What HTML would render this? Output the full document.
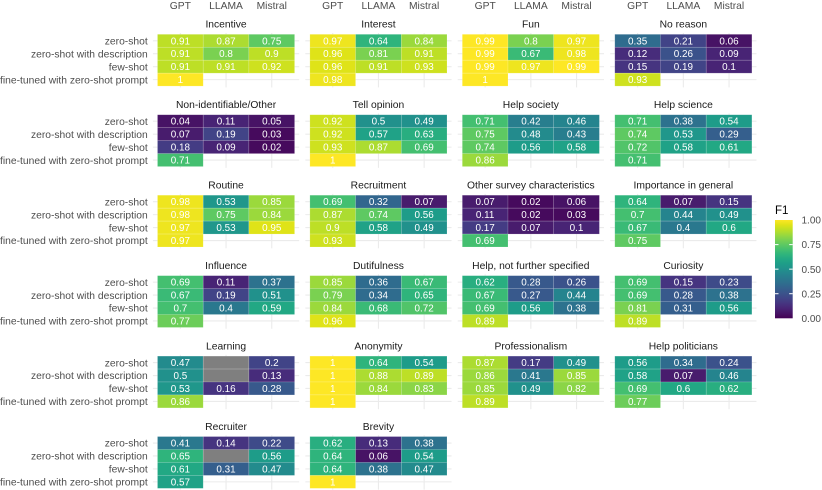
<!DOCTYPE html>
<html>
<head>
<meta charset="utf-8">
<style>
html,body{margin:0;padding:0;background:#fff;}
svg{display:block;font-family:"Liberation Sans",Arial,sans-serif;}
.s{font-size:10.3px;fill:#1a1a1a;text-anchor:middle;}
.ax{font-size:10.3px;fill:#4d4d4d;text-anchor:middle;}
.y text{font-size:10.3px;fill:#4d4d4d;text-anchor:end;}
.v text{font-size:9.9px;fill:#fff;text-anchor:middle;}
.t rect{stroke:#fff;stroke-opacity:.25;stroke-width:.6;}
.na{fill:#7f7f7f;}
.k1{fill:rgb(70,10,93)}.k2{fill:#471365}.k3{fill:rgb(72,28,109)}.k4{fill:#482475}.k5{fill:rgb(71,44,123)}
.k6{fill:#463480}.k7{fill:rgb(68,60,132)}.k8{fill:#414487}.k9{fill:rgb(62,75,137)}.k10{fill:#3b528b}
.k11{fill:rgb(56,89,140)}.k12{fill:#355f8d}.k13{fill:rgb(50,102,142)}.k14{fill:#2f6c8e}.k15{fill:rgb(45,114,142)}
.k16{fill:#2a788e}.k17{fill:rgb(40,126,142)}.k18{fill:#25848e}.k19{fill:rgb(35,139,141)}.k20{fill:#21918c}
.k21{fill:rgb(32,151,139)}.k22{fill:#1e9c89}.k23{fill:rgb(32,162,135)}.k24{fill:#22a884}.k25{fill:rgb(41,174,128)}
.k26{fill:#2fb47c}.k27{fill:rgb(58,186,118)}.k28{fill:#44bf70}.k29{fill:rgb(81,196,105)}.k30{fill:#5ec962}
.k31{fill:rgb(108,205,90)}.k32{fill:#7ad151}.k33{fill:rgb(139,213,71)}.k34{fill:#9bd93c}.k35{fill:rgb(172,220,49)}
.k36{fill:#bddf26}.k37{fill:rgb(206,225,31)}.k38{fill:#dfe318}.k39{fill:rgb(238,229,31)}.k40{fill:#fde725}
</style>
</head>
<body>
<svg width="822" height="490" viewBox="0 0 822 490" xmlns="http://www.w3.org/2000/svg">
<defs>
<g id="grid" stroke="#ebebeb" stroke-width="1.1">
<line x1="-4.57" x2="141.67" y1="6.475" y2="6.475"/>
<line x1="-4.57" x2="141.67" y1="19.425" y2="19.425"/>
<line x1="-4.57" x2="141.67" y1="32.375" y2="32.375"/>
<line x1="-4.57" x2="141.67" y1="45.325" y2="45.325"/>
<line x1="22.85" x2="22.85" y1="-1.3" y2="53.1"/>
<line x1="68.55" x2="68.55" y1="-1.3" y2="53.1"/>
<line x1="114.25" x2="114.25" y1="-1.3" y2="53.1"/>
</g>
<linearGradient id="vir" x1="0" y1="1" x2="0" y2="0">
<stop offset="0" stop-color="#440154"/><stop offset="0.05" stop-color="#471365"/><stop offset="0.1" stop-color="#482475"/>
<stop offset="0.15" stop-color="#463480"/><stop offset="0.2" stop-color="#414487"/><stop offset="0.25" stop-color="#3b528b"/>
<stop offset="0.3" stop-color="#355f8d"/><stop offset="0.35" stop-color="#2f6c8e"/><stop offset="0.4" stop-color="#2a788e"/>
<stop offset="0.45" stop-color="#25848e"/><stop offset="0.5" stop-color="#21918c"/><stop offset="0.55" stop-color="#1e9c89"/>
<stop offset="0.6" stop-color="#22a884"/><stop offset="0.65" stop-color="#2fb47c"/><stop offset="0.7" stop-color="#44bf70"/>
<stop offset="0.75" stop-color="#5ec962"/><stop offset="0.8" stop-color="#7ad151"/><stop offset="0.85" stop-color="#9bd93c"/>
<stop offset="0.9" stop-color="#bddf26"/><stop offset="0.95" stop-color="#dfe318"/><stop offset="1" stop-color="#fde725"/>
</linearGradient>
</defs>

<!-- top axis labels -->
<text class="ax" x="180.35" y="9">GPT</text><text class="ax" x="226.05" y="9">LLAMA</text><text class="ax" x="271.75" y="9">Mistral</text>
<text class="ax" x="332.75" y="9">GPT</text><text class="ax" x="378.45" y="9">LLAMA</text><text class="ax" x="424.15" y="9">Mistral</text>
<text class="ax" x="485.15" y="9">GPT</text><text class="ax" x="530.85" y="9">LLAMA</text><text class="ax" x="576.55" y="9">Mistral</text>
<text class="ax" x="637.65" y="9">GPT</text><text class="ax" x="683.35" y="9">LLAMA</text><text class="ax" x="729.05" y="9">Mistral</text>

<!-- ===== ROW 1 ===== -->
<g transform="translate(157.5,34.3)">
<use href="#grid"/>
<g class="y"><text x="-9.8" y="10.18">zero-shot</text><text x="-9.8" y="23.13">zero-shot with description</text><text x="-9.8" y="36.08">few-shot</text><text x="-9.8" y="49.03">fine-tuned with zero-shot prompt</text></g>
<text class="s" x="68.55" y="-6.7">Incentive</text>
<g class="t">
<rect x="0" y="0" width="45.7" height="12.95" class="k36"/><rect x="45.7" y="0" width="45.7" height="12.95" class="k35"/><rect x="91.4" y="0" width="45.7" height="12.95" class="k30"/>
<rect x="0" y="12.95" width="45.7" height="12.95" class="k36"/><rect x="45.7" y="12.95" width="45.7" height="12.95" class="k32"/><rect x="91.4" y="12.95" width="45.7" height="12.95" class="k36"/>
<rect x="0" y="25.9" width="45.7" height="12.95" class="k36"/><rect x="45.7" y="25.9" width="45.7" height="12.95" class="k36"/><rect x="91.4" y="25.9" width="45.7" height="12.95" class="k37"/>
<rect x="0" y="38.85" width="45.7" height="12.95" class="k40"/>
</g>
<g class="v">
<text x="22.85" y="9.98">0.91</text><text x="68.55" y="9.98">0.87</text><text x="114.25" y="9.98">0.75</text>
<text x="22.85" y="22.93">0.91</text><text x="68.55" y="22.93">0.8</text><text x="114.25" y="22.93">0.9</text>
<text x="22.85" y="35.88">0.91</text><text x="68.55" y="35.88">0.91</text><text x="114.25" y="35.88">0.92</text>
<text x="22.85" y="48.83">1</text>
</g>
</g>

<g transform="translate(309.9,34.3)">
<use href="#grid"/>
<text class="s" x="68.55" y="-6.7">Interest</text>
<g class="t">
<rect x="0" y="0" width="45.7" height="12.95" class="k39"/><rect x="45.7" y="0" width="45.7" height="12.95" class="k26"/><rect x="91.4" y="0" width="45.7" height="12.95" class="k34"/>
<rect x="0" y="12.95" width="45.7" height="12.95" class="k38"/><rect x="45.7" y="12.95" width="45.7" height="12.95" class="k32"/><rect x="91.4" y="12.95" width="45.7" height="12.95" class="k36"/>
<rect x="0" y="25.9" width="45.7" height="12.95" class="k38"/><rect x="45.7" y="25.9" width="45.7" height="12.95" class="k36"/><rect x="91.4" y="25.9" width="45.7" height="12.95" class="k37"/>
<rect x="0" y="38.85" width="45.7" height="12.95" class="k39"/>
</g>
<g class="v">
<text x="22.85" y="9.98">0.97</text><text x="68.55" y="9.98">0.64</text><text x="114.25" y="9.98">0.84</text>
<text x="22.85" y="22.93">0.96</text><text x="68.55" y="22.93">0.81</text><text x="114.25" y="22.93">0.91</text>
<text x="22.85" y="35.88">0.96</text><text x="68.55" y="35.88">0.91</text><text x="114.25" y="35.88">0.93</text>
<text x="22.85" y="48.83">0.98</text>
</g>
</g>

<g transform="translate(462.3,34.3)">
<use href="#grid"/>
<text class="s" x="68.55" y="-6.7">Fun</text>
<g class="t">
<rect x="0" y="0" width="45.7" height="12.95" class="k40"/><rect x="45.7" y="0" width="45.7" height="12.95" class="k32"/><rect x="91.4" y="0" width="45.7" height="12.95" class="k39"/>
<rect x="0" y="12.95" width="45.7" height="12.95" class="k40"/><rect x="45.7" y="12.95" width="45.7" height="12.95" class="k27"/><rect x="91.4" y="12.95" width="45.7" height="12.95" class="k39"/>
<rect x="0" y="25.9" width="45.7" height="12.95" class="k40"/><rect x="45.7" y="25.9" width="45.7" height="12.95" class="k39"/><rect x="91.4" y="25.9" width="45.7" height="12.95" class="k40"/>
<rect x="0" y="38.85" width="45.7" height="12.95" class="k40"/>
</g>
<g class="v">
<text x="22.85" y="9.98">0.99</text><text x="68.55" y="9.98">0.8</text><text x="114.25" y="9.98">0.97</text>
<text x="22.85" y="22.93">0.99</text><text x="68.55" y="22.93">0.67</text><text x="114.25" y="22.93">0.98</text>
<text x="22.85" y="35.88">0.99</text><text x="68.55" y="35.88">0.97</text><text x="114.25" y="35.88">0.99</text>
<text x="22.85" y="48.83">1</text>
</g>
</g>

<g transform="translate(614.8,34.3)">
<use href="#grid"/>
<text class="s" x="68.55" y="-6.7">No reason</text>
<g class="t">
<rect x="0" y="0" width="45.7" height="12.95" class="k14"/><rect x="45.7" y="0" width="45.7" height="12.95" class="k8"/><rect x="91.4" y="0" width="45.7" height="12.95" class="k2"/>
<rect x="0" y="12.95" width="45.7" height="12.95" class="k5"/><rect x="45.7" y="12.95" width="45.7" height="12.95" class="k10"/><rect x="91.4" y="12.95" width="45.7" height="12.95" class="k4"/>
<rect x="0" y="25.9" width="45.7" height="12.95" class="k6"/><rect x="45.7" y="25.9" width="45.7" height="12.95" class="k8"/><rect x="91.4" y="25.9" width="45.7" height="12.95" class="k4"/>
<rect x="0" y="38.85" width="45.7" height="12.95" class="k37"/>
</g>
<g class="v">
<text x="22.85" y="9.98">0.35</text><text x="68.55" y="9.98">0.21</text><text x="114.25" y="9.98">0.06</text>
<text x="22.85" y="22.93">0.12</text><text x="68.55" y="22.93">0.26</text><text x="114.25" y="22.93">0.09</text>
<text x="22.85" y="35.88">0.15</text><text x="68.55" y="35.88">0.19</text><text x="114.25" y="35.88">0.1</text>
<text x="22.85" y="48.83">0.93</text>
</g>
</g>

<!-- ===== ROW 2 ===== -->
<g transform="translate(157.5,114.75)">
<use href="#grid"/>
<g class="y"><text x="-9.8" y="10.18">zero-shot</text><text x="-9.8" y="23.13">zero-shot with description</text><text x="-9.8" y="36.08">few-shot</text><text x="-9.8" y="49.03">fine-tuned with zero-shot prompt</text></g>
<text class="s" x="68.55" y="-6.7">Non-identifiable/Other</text>
<g class="t">
<rect x="0" y="0" width="45.7" height="12.95" class="k2"/><rect x="45.7" y="0" width="45.7" height="12.95" class="k4"/><rect x="91.4" y="0" width="45.7" height="12.95" class="k2"/>
<rect x="0" y="12.95" width="45.7" height="12.95" class="k3"/><rect x="45.7" y="12.95" width="45.7" height="12.95" class="k8"/><rect x="91.4" y="12.95" width="45.7" height="12.95" class="k1"/>
<rect x="0" y="25.9" width="45.7" height="12.95" class="k7"/><rect x="45.7" y="25.9" width="45.7" height="12.95" class="k4"/><rect x="91.4" y="25.9" width="45.7" height="12.95" class="k1"/>
<rect x="0" y="38.85" width="45.7" height="12.95" class="k28"/>
</g>
<g class="v">
<text x="22.85" y="9.98">0.04</text><text x="68.55" y="9.98">0.11</text><text x="114.25" y="9.98">0.05</text>
<text x="22.85" y="22.93">0.07</text><text x="68.55" y="22.93">0.19</text><text x="114.25" y="22.93">0.03</text>
<text x="22.85" y="35.88">0.18</text><text x="68.55" y="35.88">0.09</text><text x="114.25" y="35.88">0.02</text>
<text x="22.85" y="48.83">0.71</text>
</g>
</g>

<g transform="translate(309.9,114.75)">
<use href="#grid"/>
<text class="s" x="68.55" y="-6.7">Tell opinion</text>
<g class="t">
<rect x="0" y="0" width="45.7" height="12.95" class="k37"/><rect x="45.7" y="0" width="45.7" height="12.95" class="k20"/><rect x="91.4" y="0" width="45.7" height="12.95" class="k20"/>
<rect x="0" y="12.95" width="45.7" height="12.95" class="k37"/><rect x="45.7" y="12.95" width="45.7" height="12.95" class="k23"/><rect x="91.4" y="12.95" width="45.7" height="12.95" class="k25"/>
<rect x="0" y="25.9" width="45.7" height="12.95" class="k37"/><rect x="45.7" y="25.9" width="45.7" height="12.95" class="k35"/><rect x="91.4" y="25.9" width="45.7" height="12.95" class="k28"/>
<rect x="0" y="38.85" width="45.7" height="12.95" class="k40"/>
</g>
<g class="v">
<text x="22.85" y="9.98">0.92</text><text x="68.55" y="9.98">0.5</text><text x="114.25" y="9.98">0.49</text>
<text x="22.85" y="22.93">0.92</text><text x="68.55" y="22.93">0.57</text><text x="114.25" y="22.93">0.63</text>
<text x="22.85" y="35.88">0.93</text><text x="68.55" y="35.88">0.87</text><text x="114.25" y="35.88">0.69</text>
<text x="22.85" y="48.83">1</text>
</g>
</g>

<g transform="translate(462.3,114.75)">
<use href="#grid"/>
<text class="s" x="68.55" y="-6.7">Help society</text>
<g class="t">
<rect x="0" y="0" width="45.7" height="12.95" class="k28"/><rect x="45.7" y="0" width="45.7" height="12.95" class="k17"/><rect x="91.4" y="0" width="45.7" height="12.95" class="k18"/>
<rect x="0" y="12.95" width="45.7" height="12.95" class="k30"/><rect x="45.7" y="12.95" width="45.7" height="12.95" class="k19"/><rect x="91.4" y="12.95" width="45.7" height="12.95" class="k17"/>
<rect x="0" y="25.9" width="45.7" height="12.95" class="k30"/><rect x="45.7" y="25.9" width="45.7" height="12.95" class="k22"/><rect x="91.4" y="25.9" width="45.7" height="12.95" class="k23"/>
<rect x="0" y="38.85" width="45.7" height="12.95" class="k34"/>
</g>
<g class="v">
<text x="22.85" y="9.98">0.71</text><text x="68.55" y="9.98">0.42</text><text x="114.25" y="9.98">0.46</text>
<text x="22.85" y="22.93">0.75</text><text x="68.55" y="22.93">0.48</text><text x="114.25" y="22.93">0.43</text>
<text x="22.85" y="35.88">0.74</text><text x="68.55" y="35.88">0.56</text><text x="114.25" y="35.88">0.58</text>
<text x="22.85" y="48.83">0.86</text>
</g>
</g>

<g transform="translate(614.8,114.75)">
<use href="#grid"/>
<text class="s" x="68.55" y="-6.7">Help science</text>
<g class="t">
<rect x="0" y="0" width="45.7" height="12.95" class="k28"/><rect x="45.7" y="0" width="45.7" height="12.95" class="k15"/><rect x="91.4" y="0" width="45.7" height="12.95" class="k22"/>
<rect x="0" y="12.95" width="45.7" height="12.95" class="k30"/><rect x="45.7" y="12.95" width="45.7" height="12.95" class="k21"/><rect x="91.4" y="12.95" width="45.7" height="12.95" class="k12"/>
<rect x="0" y="25.9" width="45.7" height="12.95" class="k29"/><rect x="45.7" y="25.9" width="45.7" height="12.95" class="k23"/><rect x="91.4" y="25.9" width="45.7" height="12.95" class="k24"/>
<rect x="0" y="38.85" width="45.7" height="12.95" class="k28"/>
</g>
<g class="v">
<text x="22.85" y="9.98">0.71</text><text x="68.55" y="9.98">0.38</text><text x="114.25" y="9.98">0.54</text>
<text x="22.85" y="22.93">0.74</text><text x="68.55" y="22.93">0.53</text><text x="114.25" y="22.93">0.29</text>
<text x="22.85" y="35.88">0.72</text><text x="68.55" y="35.88">0.58</text><text x="114.25" y="35.88">0.61</text>
<text x="22.85" y="48.83">0.71</text>
</g>
</g>

<!-- ===== ROW 3 ===== -->
<g transform="translate(157.5,195.2)">
<use href="#grid"/>
<g class="y"><text x="-9.8" y="10.18">zero-shot</text><text x="-9.8" y="23.13">zero-shot with description</text><text x="-9.8" y="36.08">few-shot</text><text x="-9.8" y="49.03">fine-tuned with zero-shot prompt</text></g>
<text class="s" x="68.55" y="-6.7">Routine</text>
<g class="t">
<rect x="0" y="0" width="45.7" height="12.95" class="k39"/><rect x="45.7" y="0" width="45.7" height="12.95" class="k21"/><rect x="91.4" y="0" width="45.7" height="12.95" class="k34"/>
<rect x="0" y="12.95" width="45.7" height="12.95" class="k39"/><rect x="45.7" y="12.95" width="45.7" height="12.95" class="k30"/><rect x="91.4" y="12.95" width="45.7" height="12.95" class="k34"/>
<rect x="0" y="25.9" width="45.7" height="12.95" class="k39"/><rect x="45.7" y="25.9" width="45.7" height="12.95" class="k21"/><rect x="91.4" y="25.9" width="45.7" height="12.95" class="k38"/>
<rect x="0" y="38.85" width="45.7" height="12.95" class="k39"/>
</g>
<g class="v">
<text x="22.85" y="9.98">0.98</text><text x="68.55" y="9.98">0.53</text><text x="114.25" y="9.98">0.85</text>
<text x="22.85" y="22.93">0.98</text><text x="68.55" y="22.93">0.75</text><text x="114.25" y="22.93">0.84</text>
<text x="22.85" y="35.88">0.97</text><text x="68.55" y="35.88">0.53</text><text x="114.25" y="35.88">0.95</text>
<text x="22.85" y="48.83">0.97</text>
</g>
</g>

<g transform="translate(309.9,195.2)">
<use href="#grid"/>
<text class="s" x="68.55" y="-6.7">Recruitment</text>
<g class="t">
<rect x="0" y="0" width="45.7" height="12.95" class="k28"/><rect x="45.7" y="0" width="45.7" height="12.95" class="k13"/><rect x="91.4" y="0" width="45.7" height="12.95" class="k3"/>
<rect x="0" y="12.95" width="45.7" height="12.95" class="k35"/><rect x="45.7" y="12.95" width="45.7" height="12.95" class="k30"/><rect x="91.4" y="12.95" width="45.7" height="12.95" class="k22"/>
<rect x="0" y="25.9" width="45.7" height="12.95" class="k36"/><rect x="45.7" y="25.9" width="45.7" height="12.95" class="k23"/><rect x="91.4" y="25.9" width="45.7" height="12.95" class="k20"/>
<rect x="0" y="38.85" width="45.7" height="12.95" class="k37"/>
</g>
<g class="v">
<text x="22.85" y="9.98">0.69</text><text x="68.55" y="9.98">0.32</text><text x="114.25" y="9.98">0.07</text>
<text x="22.85" y="22.93">0.87</text><text x="68.55" y="22.93">0.74</text><text x="114.25" y="22.93">0.56</text>
<text x="22.85" y="35.88">0.9</text><text x="68.55" y="35.88">0.58</text><text x="114.25" y="35.88">0.49</text>
<text x="22.85" y="48.83">0.93</text>
</g>
</g>

<g transform="translate(462.3,195.2)">
<use href="#grid"/>
<text class="s" x="68.55" y="-6.7">Other survey characteristics</text>
<g class="t">
<rect x="0" y="0" width="45.7" height="12.95" class="k3"/><rect x="45.7" y="0" width="45.7" height="12.95" class="k1"/><rect x="91.4" y="0" width="45.7" height="12.95" class="k2"/>
<rect x="0" y="12.95" width="45.7" height="12.95" class="k4"/><rect x="45.7" y="12.95" width="45.7" height="12.95" class="k1"/><rect x="91.4" y="12.95" width="45.7" height="12.95" class="k1"/>
<rect x="0" y="25.9" width="45.7" height="12.95" class="k7"/><rect x="45.7" y="25.9" width="45.7" height="12.95" class="k3"/><rect x="91.4" y="25.9" width="45.7" height="12.95" class="k4"/>
<rect x="0" y="38.85" width="45.7" height="12.95" class="k28"/>
</g>
<g class="v">
<text x="22.85" y="9.98">0.07</text><text x="68.55" y="9.98">0.02</text><text x="114.25" y="9.98">0.06</text>
<text x="22.85" y="22.93">0.11</text><text x="68.55" y="22.93">0.02</text><text x="114.25" y="22.93">0.03</text>
<text x="22.85" y="35.88">0.17</text><text x="68.55" y="35.88">0.07</text><text x="114.25" y="35.88">0.1</text>
<text x="22.85" y="48.83">0.69</text>
</g>
</g>

<g transform="translate(614.8,195.2)">
<use href="#grid"/>
<text class="s" x="68.55" y="-6.7">Importance in general</text>
<g class="t">
<rect x="0" y="0" width="45.7" height="12.95" class="k26"/><rect x="45.7" y="0" width="45.7" height="12.95" class="k3"/><rect x="91.4" y="0" width="45.7" height="12.95" class="k6"/>
<rect x="0" y="12.95" width="45.7" height="12.95" class="k28"/><rect x="45.7" y="12.95" width="45.7" height="12.95" class="k18"/><rect x="91.4" y="12.95" width="45.7" height="12.95" class="k20"/>
<rect x="0" y="25.9" width="45.7" height="12.95" class="k27"/><rect x="45.7" y="25.9" width="45.7" height="12.95" class="k16"/><rect x="91.4" y="25.9" width="45.7" height="12.95" class="k24"/>
<rect x="0" y="38.85" width="45.7" height="12.95" class="k30"/>
</g>
<g class="v">
<text x="22.85" y="9.98">0.64</text><text x="68.55" y="9.98">0.07</text><text x="114.25" y="9.98">0.15</text>
<text x="22.85" y="22.93">0.7</text><text x="68.55" y="22.93">0.44</text><text x="114.25" y="22.93">0.49</text>
<text x="22.85" y="35.88">0.67</text><text x="68.55" y="35.88">0.4</text><text x="114.25" y="35.88">0.6</text>
<text x="22.85" y="48.83">0.75</text>
</g>
</g>

<!-- ===== ROW 4 ===== -->
<g transform="translate(157.5,275.65)">
<use href="#grid"/>
<g class="y"><text x="-9.8" y="10.18">zero-shot</text><text x="-9.8" y="23.13">zero-shot with description</text><text x="-9.8" y="36.08">few-shot</text><text x="-9.8" y="49.03">fine-tuned with zero-shot prompt</text></g>
<text class="s" x="68.55" y="-6.7">Influence</text>
<g class="t">
<rect x="0" y="0" width="45.7" height="12.95" class="k28"/><rect x="45.7" y="0" width="45.7" height="12.95" class="k4"/><rect x="91.4" y="0" width="45.7" height="12.95" class="k15"/>
<rect x="0" y="12.95" width="45.7" height="12.95" class="k27"/><rect x="45.7" y="12.95" width="45.7" height="12.95" class="k8"/><rect x="91.4" y="12.95" width="45.7" height="12.95" class="k20"/>
<rect x="0" y="25.9" width="45.7" height="12.95" class="k28"/><rect x="45.7" y="25.9" width="45.7" height="12.95" class="k16"/><rect x="91.4" y="25.9" width="45.7" height="12.95" class="k24"/>
<rect x="0" y="38.85" width="45.7" height="12.95" class="k31"/>
</g>
<g class="v">
<text x="22.85" y="9.98">0.69</text><text x="68.55" y="9.98">0.11</text><text x="114.25" y="9.98">0.37</text>
<text x="22.85" y="22.93">0.67</text><text x="68.55" y="22.93">0.19</text><text x="114.25" y="22.93">0.51</text>
<text x="22.85" y="35.88">0.7</text><text x="68.55" y="35.88">0.4</text><text x="114.25" y="35.88">0.59</text>
<text x="22.85" y="48.83">0.77</text>
</g>
</g>

<g transform="translate(309.9,275.65)">
<use href="#grid"/>
<text class="s" x="68.55" y="-6.7">Dutifulness</text>
<g class="t">
<rect x="0" y="0" width="45.7" height="12.95" class="k34"/><rect x="45.7" y="0" width="45.7" height="12.95" class="k14"/><rect x="91.4" y="0" width="45.7" height="12.95" class="k27"/>
<rect x="0" y="12.95" width="45.7" height="12.95" class="k32"/><rect x="45.7" y="12.95" width="45.7" height="12.95" class="k14"/><rect x="91.4" y="12.95" width="45.7" height="12.95" class="k26"/>
<rect x="0" y="25.9" width="45.7" height="12.95" class="k34"/><rect x="45.7" y="25.9" width="45.7" height="12.95" class="k27"/><rect x="91.4" y="25.9" width="45.7" height="12.95" class="k29"/>
<rect x="0" y="38.85" width="45.7" height="12.95" class="k38"/>
</g>
<g class="v">
<text x="22.85" y="9.98">0.85</text><text x="68.55" y="9.98">0.36</text><text x="114.25" y="9.98">0.67</text>
<text x="22.85" y="22.93">0.79</text><text x="68.55" y="22.93">0.34</text><text x="114.25" y="22.93">0.65</text>
<text x="22.85" y="35.88">0.84</text><text x="68.55" y="35.88">0.68</text><text x="114.25" y="35.88">0.72</text>
<text x="22.85" y="48.83">0.96</text>
</g>
</g>

<g transform="translate(462.3,275.65)">
<use href="#grid"/>
<text class="s" x="68.55" y="-6.7">Help, not further specified</text>
<g class="t">
<rect x="0" y="0" width="45.7" height="12.95" class="k25"/><rect x="45.7" y="0" width="45.7" height="12.95" class="k11"/><rect x="91.4" y="0" width="45.7" height="12.95" class="k10"/>
<rect x="0" y="12.95" width="45.7" height="12.95" class="k27"/><rect x="45.7" y="12.95" width="45.7" height="12.95" class="k11"/><rect x="91.4" y="12.95" width="45.7" height="12.95" class="k18"/>
<rect x="0" y="25.9" width="45.7" height="12.95" class="k28"/><rect x="45.7" y="25.9" width="45.7" height="12.95" class="k22"/><rect x="91.4" y="25.9" width="45.7" height="12.95" class="k15"/>
<rect x="0" y="38.85" width="45.7" height="12.95" class="k36"/>
</g>
<g class="v">
<text x="22.85" y="9.98">0.62</text><text x="68.55" y="9.98">0.28</text><text x="114.25" y="9.98">0.26</text>
<text x="22.85" y="22.93">0.67</text><text x="68.55" y="22.93">0.27</text><text x="114.25" y="22.93">0.44</text>
<text x="22.85" y="35.88">0.69</text><text x="68.55" y="35.88">0.56</text><text x="114.25" y="35.88">0.38</text>
<text x="22.85" y="48.83">0.89</text>
</g>
</g>

<g transform="translate(614.8,275.65)">
<use href="#grid"/>
<text class="s" x="68.55" y="-6.7">Curiosity</text>
<g class="t">
<rect x="0" y="0" width="45.7" height="12.95" class="k28"/><rect x="45.7" y="0" width="45.7" height="12.95" class="k6"/><rect x="91.4" y="0" width="45.7" height="12.95" class="k9"/>
<rect x="0" y="12.95" width="45.7" height="12.95" class="k28"/><rect x="45.7" y="12.95" width="45.7" height="12.95" class="k11"/><rect x="91.4" y="12.95" width="45.7" height="12.95" class="k15"/>
<rect x="0" y="25.9" width="45.7" height="12.95" class="k32"/><rect x="45.7" y="25.9" width="45.7" height="12.95" class="k12"/><rect x="91.4" y="25.9" width="45.7" height="12.95" class="k22"/>
<rect x="0" y="38.85" width="45.7" height="12.95" class="k36"/>
</g>
<g class="v">
<text x="22.85" y="9.98">0.69</text><text x="68.55" y="9.98">0.15</text><text x="114.25" y="9.98">0.23</text>
<text x="22.85" y="22.93">0.69</text><text x="68.55" y="22.93">0.28</text><text x="114.25" y="22.93">0.38</text>
<text x="22.85" y="35.88">0.81</text><text x="68.55" y="35.88">0.31</text><text x="114.25" y="35.88">0.56</text>
<text x="22.85" y="48.83">0.89</text>
</g>
</g>

<!-- ===== ROW 5 ===== -->
<g transform="translate(157.5,356.1)">
<use href="#grid"/>
<g class="y"><text x="-9.8" y="10.18">zero-shot</text><text x="-9.8" y="23.13">zero-shot with description</text><text x="-9.8" y="36.08">few-shot</text><text x="-9.8" y="49.03">fine-tuned with zero-shot prompt</text></g>
<text class="s" x="68.55" y="-6.7">Learning</text>
<g class="t">
<rect x="0" y="0" width="45.7" height="12.95" class="k19"/><rect x="45.7" y="0" width="45.7" height="12.95" class="na"/><rect x="91.4" y="0" width="45.7" height="12.95" class="k8"/>
<rect x="0" y="12.95" width="45.7" height="12.95" class="k20"/><rect x="45.7" y="12.95" width="45.7" height="12.95" class="na"/><rect x="91.4" y="12.95" width="45.7" height="12.95" class="k5"/>
<rect x="0" y="25.9" width="45.7" height="12.95" class="k21"/><rect x="45.7" y="25.9" width="45.7" height="12.95" class="k6"/><rect x="91.4" y="25.9" width="45.7" height="12.95" class="k11"/>
<rect x="0" y="38.85" width="45.7" height="12.95" class="k34"/>
</g>
<g class="v">
<text x="22.85" y="9.98">0.47</text><text x="114.25" y="9.98">0.2</text>
<text x="22.85" y="22.93">0.5</text><text x="114.25" y="22.93">0.13</text>
<text x="22.85" y="35.88">0.53</text><text x="68.55" y="35.88">0.16</text><text x="114.25" y="35.88">0.28</text>
<text x="22.85" y="48.83">0.86</text>
</g>
</g>

<g transform="translate(309.9,356.1)">
<use href="#grid"/>
<text class="s" x="68.55" y="-6.7">Anonymity</text>
<g class="t">
<rect x="0" y="0" width="45.7" height="12.95" class="k40"/><rect x="45.7" y="0" width="45.7" height="12.95" class="k26"/><rect x="91.4" y="0" width="45.7" height="12.95" class="k22"/>
<rect x="0" y="12.95" width="45.7" height="12.95" class="k40"/><rect x="45.7" y="12.95" width="45.7" height="12.95" class="k35"/><rect x="91.4" y="12.95" width="45.7" height="12.95" class="k36"/>
<rect x="0" y="25.9" width="45.7" height="12.95" class="k40"/><rect x="45.7" y="25.9" width="45.7" height="12.95" class="k34"/><rect x="91.4" y="25.9" width="45.7" height="12.95" class="k33"/>
<rect x="0" y="38.85" width="45.7" height="12.95" class="k40"/>
</g>
<g class="v">
<text x="22.85" y="9.98">1</text><text x="68.55" y="9.98">0.64</text><text x="114.25" y="9.98">0.54</text>
<text x="22.85" y="22.93">1</text><text x="68.55" y="22.93">0.88</text><text x="114.25" y="22.93">0.89</text>
<text x="22.85" y="35.88">1</text><text x="68.55" y="35.88">0.84</text><text x="114.25" y="35.88">0.83</text>
<text x="22.85" y="48.83">1</text>
</g>
</g>

<g transform="translate(462.3,356.1)">
<use href="#grid"/>
<text class="s" x="68.55" y="-6.7">Professionalism</text>
<g class="t">
<rect x="0" y="0" width="45.7" height="12.95" class="k35"/><rect x="45.7" y="0" width="45.7" height="12.95" class="k7"/><rect x="91.4" y="0" width="45.7" height="12.95" class="k20"/>
<rect x="0" y="12.95" width="45.7" height="12.95" class="k34"/><rect x="45.7" y="12.95" width="45.7" height="12.95" class="k16"/><rect x="91.4" y="12.95" width="45.7" height="12.95" class="k34"/>
<rect x="0" y="25.9" width="45.7" height="12.95" class="k34"/><rect x="45.7" y="25.9" width="45.7" height="12.95" class="k20"/><rect x="91.4" y="25.9" width="45.7" height="12.95" class="k33"/>
<rect x="0" y="38.85" width="45.7" height="12.95" class="k36"/>
</g>
<g class="v">
<text x="22.85" y="9.98">0.87</text><text x="68.55" y="9.98">0.17</text><text x="114.25" y="9.98">0.49</text>
<text x="22.85" y="22.93">0.86</text><text x="68.55" y="22.93">0.41</text><text x="114.25" y="22.93">0.85</text>
<text x="22.85" y="35.88">0.85</text><text x="68.55" y="35.88">0.49</text><text x="114.25" y="35.88">0.82</text>
<text x="22.85" y="48.83">0.89</text>
</g>
</g>

<g transform="translate(614.8,356.1)">
<use href="#grid"/>
<text class="s" x="68.55" y="-6.7">Help politicians</text>
<g class="t">
<rect x="0" y="0" width="45.7" height="12.95" class="k22"/><rect x="45.7" y="0" width="45.7" height="12.95" class="k14"/><rect x="91.4" y="0" width="45.7" height="12.95" class="k10"/>
<rect x="0" y="12.95" width="45.7" height="12.95" class="k23"/><rect x="45.7" y="12.95" width="45.7" height="12.95" class="k3"/><rect x="91.4" y="12.95" width="45.7" height="12.95" class="k18"/>
<rect x="0" y="25.9" width="45.7" height="12.95" class="k28"/><rect x="45.7" y="25.9" width="45.7" height="12.95" class="k24"/><rect x="91.4" y="25.9" width="45.7" height="12.95" class="k25"/>
<rect x="0" y="38.85" width="45.7" height="12.95" class="k31"/>
</g>
<g class="v">
<text x="22.85" y="9.98">0.56</text><text x="68.55" y="9.98">0.34</text><text x="114.25" y="9.98">0.24</text>
<text x="22.85" y="22.93">0.58</text><text x="68.55" y="22.93">0.07</text><text x="114.25" y="22.93">0.46</text>
<text x="22.85" y="35.88">0.69</text><text x="68.55" y="35.88">0.6</text><text x="114.25" y="35.88">0.62</text>
<text x="22.85" y="48.83">0.77</text>
</g>
</g>

<!-- ===== ROW 6 ===== -->
<g transform="translate(157.5,436.55)">
<use href="#grid"/>
<g class="y"><text x="-9.8" y="10.18">zero-shot</text><text x="-9.8" y="23.13">zero-shot with description</text><text x="-9.8" y="36.08">few-shot</text><text x="-9.8" y="49.03">fine-tuned with zero-shot prompt</text></g>
<text class="s" x="68.55" y="-6.7">Recruiter</text>
<g class="t">
<rect x="0" y="0" width="45.7" height="12.95" class="k16"/><rect x="45.7" y="0" width="45.7" height="12.95" class="k6"/><rect x="91.4" y="0" width="45.7" height="12.95" class="k9"/>
<rect x="0" y="12.95" width="45.7" height="12.95" class="k26"/><rect x="45.7" y="12.95" width="45.7" height="12.95" class="na"/><rect x="91.4" y="12.95" width="45.7" height="12.95" class="k22"/>
<rect x="0" y="25.9" width="45.7" height="12.95" class="k24"/><rect x="45.7" y="25.9" width="45.7" height="12.95" class="k12"/><rect x="91.4" y="25.9" width="45.7" height="12.95" class="k19"/>
<rect x="0" y="38.85" width="45.7" height="12.95" class="k23"/>
</g>
<g class="v">
<text x="22.85" y="9.98">0.41</text><text x="68.55" y="9.98">0.14</text><text x="114.25" y="9.98">0.22</text>
<text x="22.85" y="22.93">0.65</text><text x="114.25" y="22.93">0.56</text>
<text x="22.85" y="35.88">0.61</text><text x="68.55" y="35.88">0.31</text><text x="114.25" y="35.88">0.47</text>
<text x="22.85" y="48.83">0.57</text>
</g>
</g>

<g transform="translate(309.9,436.55)">
<use href="#grid"/>
<text class="s" x="68.55" y="-6.7">Brevity</text>
<g class="t">
<rect x="0" y="0" width="45.7" height="12.95" class="k25"/><rect x="45.7" y="0" width="45.7" height="12.95" class="k5"/><rect x="91.4" y="0" width="45.7" height="12.95" class="k15"/>
<rect x="0" y="12.95" width="45.7" height="12.95" class="k26"/><rect x="45.7" y="12.95" width="45.7" height="12.95" class="k2"/><rect x="91.4" y="12.95" width="45.7" height="12.95" class="k22"/>
<rect x="0" y="25.9" width="45.7" height="12.95" class="k26"/><rect x="45.7" y="25.9" width="45.7" height="12.95" class="k15"/><rect x="91.4" y="25.9" width="45.7" height="12.95" class="k19"/>
<rect x="0" y="38.85" width="45.7" height="12.95" class="k40"/>
</g>
<g class="v">
<text x="22.85" y="9.98">0.62</text><text x="68.55" y="9.98">0.13</text><text x="114.25" y="9.98">0.38</text>
<text x="22.85" y="22.93">0.64</text><text x="68.55" y="22.93">0.06</text><text x="114.25" y="22.93">0.54</text>
<text x="22.85" y="35.88">0.64</text><text x="68.55" y="35.88">0.38</text><text x="114.25" y="35.88">0.47</text>
<text x="22.85" y="48.83">1</text>
</g>
</g>

<!-- ===== LEGEND ===== -->
<text x="775" y="214" style="font-size:11.5px;fill:#000">F1</text>
<rect x="775" y="220" width="17.7" height="98.3" fill="url(#vir)"/>
<g stroke="#fff" stroke-width="1">
<line x1="775" x2="778.5" y1="244.6" y2="244.6"/><line x1="789.2" x2="792.7" y1="244.6" y2="244.6"/>
<line x1="775" x2="778.5" y1="269.15" y2="269.15"/><line x1="789.2" x2="792.7" y1="269.15" y2="269.15"/>
<line x1="775" x2="778.5" y1="293.7" y2="293.7"/><line x1="789.2" x2="792.7" y1="293.7" y2="293.7"/>
</g>
<g style="font-size:10px;fill:#4d4d4d">
<text x="801.5" y="223.6">1.00</text>
<text x="801.5" y="248.2">0.75</text>
<text x="801.5" y="272.8">0.50</text>
<text x="801.5" y="297.3">0.25</text>
<text x="801.5" y="321.9">0.00</text>
</g>
</svg>
</body>
</html>
